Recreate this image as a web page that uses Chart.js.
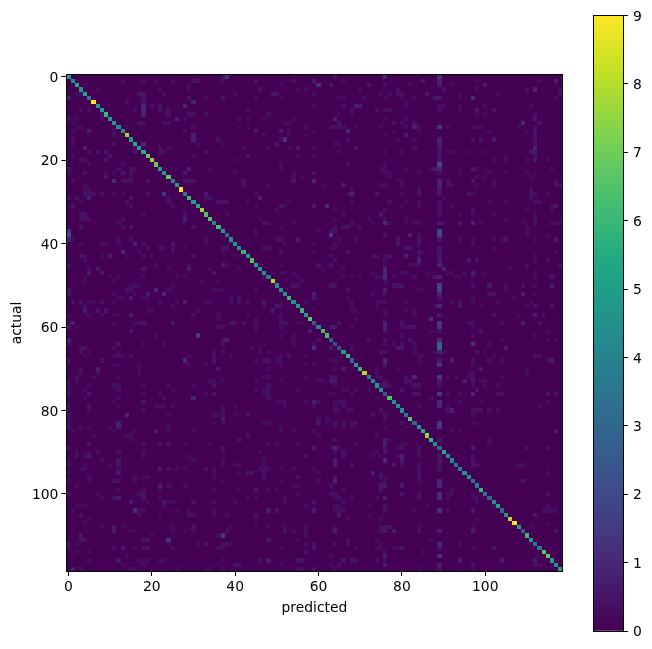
<!DOCTYPE html>
<html>
<head>
<meta charset="utf-8">
<title>Confusion matrix</title>
<script src="https://cdn.jsdelivr.net/npm/chart.js@4"></script>
<style>
  html, body { margin: 0; background: #fff; }
  canvas { position: absolute; top: 0; }
  #matrix { left: 0; }
  #colorbar { left: 580px; }
</style>
</head>
<body>
<canvas id="matrix" width="580" height="649"></canvas>
<canvas id="colorbar" width="72" height="649"></canvas>
<script>
// values, colour scale runs 0..9
const classCount = 119;
const xTickValues = [0, 20, 40, 60, 80, 100];
const yTickValues = [0, 20, 40, 60, 80, 100];
const barTickValues = [0, 1, 2, 3, 4, 5, 6, 7, 8, 9];
const xTitle = "predicted";
const yTitle = "actual";

// cell [i][i] for i = 0..118
const diagonal = [
  4.5,4.5,5.5,5,5.5,3.5,9,5,5,6,5,5,4.5,4.5,7.8,5,5.5,5,5.5,6.8,
  7.5,6.8,5,5,6.8,4,5,9,3.5,6,5,5.5,7.6,6.5,6.5,4,6.3,5,3,4.5,
  4.7,4.5,6,5,6.5,5,5,4.5,4,8,4.5,4.5,4.5,6,4.5,5,6,4.8,6.8,2.5,
  4,6.3,6.3,2.5,2,2.2,5,6,3,5,6,8,4,4.5,5,4.5,2.5,6.5,4.5,4.5,
  4.5,3.5,6.7,3,4.5,5.5,7.5,6,4.5,3,5.5,4.5,4.2,3.5,4,4.7,4.6,3.5,3.8,6,
  3.5,3,4.5,5.3,3,4.8,8,9,5,2.5,6.2,4.8,3.5,3.8,6.7,6.7,5,4.5,5
];

// the bright vertical stripe at predicted = 89
const stripeColumn = 89;
const stripeRows = [0,1,2,5,7,8,12,15,16,17,18,19,20,21,22,23,25,26,27,28,30,31,32,33,35,37,38,39,41,42,43,44,45,48,50,51,52,53,55,57,59,60,61,63,64,65,66,68,69,72,73,74,76,78,79,83,84,87,91,92,93,94,97,98,100,101,104,109,112,113,115,117,118];
const stripeValues = [1.3,.8,.7,.6,.4,.4,1.5,.8,.8,.5,.5,.5,.5,2,.8,.3,.8,.8,.6,.6,.4,.4,.4,.4,.5,2,2,.5,.5,.5,.5,.5,1,.8,1.8,1.8,.8,.5,1,.6,1.5,1.5,.4,1,3,3,.8,.6,1.3,1.5,.5,.4,1.5,1,.9,1.4,1.4,.5,.5,.5,.5,.5,1,1,1.2,1.2,1.3,.8,1,.6,1.3,.8,.5];

// off-diagonal cells, [row, [col, value, col, value, ...]]
const cellsLeft = [
  [0,[37,.5,38,1.2]],[1,[13,.4,18,.4,21,.3,25,.4,30,.4,31,.4,37,.4]],[2,[4,.3,29,.3]],[3,[7,.3,22,.4,29,.3]],
  [4,[2,.3,3,.3,17,.6,18,.6,23,.4]],[5,[0,.8,18,.5,29,.4,33,.3,37,.5]],[6,[14,.4,18,.4,30,.9]],[7,[18,1,20,.4,22,.5,28,.9]],
  [8,[3,.4,5,.4,16,.4,18,1,22,.5,24,.4]],[9,[8,.4,18,.8,24,.4,29,.4,30,.4,33,.4]],[10,[0,.4,2,.3,8,.3,26,.8,28,.3]],[11,[1,.3,17,.4,18,.4,23,.4,24,.4]],
  [12,[2,.3,3,.3,14,.3,30,.4]],[13,[1,.3,5,.8,11,.4,28,.4]],[14,[11,.3,30,.8]],[15,[1,.4,30,.8,36,.4]],
  [16,[1,.3,11,.4,18,1,31,.3,37,.3]],[17,[4,.8,16,.3,22,.4,24,.3]],[18,[5,.4,7,.4,9,.6,16,.5,22,.4,23,.4,33,.4]],[19,[1,.3,10,.4,30,.3]],
  [20,[3,.4,4,.4,9,.5]],[21,[5,.3,13,.3]],[22,[0,.4,12,.4,15,.4,16,.4,29,.8,34,.3]],[23,[0,.3,4,.5,9,.3,11,.3,13,.6,15,.3,28,.7]],
  [24,[9,.7,15,.3]],[25,[1,.4,11,1.2,13,.4,14,.4,15,.4,19,.5,28,.5,29,.5,30,.5]],[26,[4,.3]],[27,[4,.3,5,.3]],
  [28,[4,.4,5,.4,6,.4,8,.4,11,.3,13,.3,19,.4,23,1.5,33,.6]],[29,[0,.4,2,.4,5,.8,15,.6,24,.4,33,.4,34,.4]],[30,[3,.3,14,.4,24,.4,36,.5,37,.5,38,.5]],[31,[1,.6,15,.4,25,.4]],
  [33,[3,.5,4,.5,18,.3,28,.4,38,.3]],[34,[3,.4,4,.4,5,.4,13,.4,28,.8]],[35,[12,.4,28,.3]],[36,[3,.5,13,.4,15,.6,30,.5]],
  [37,[0,1.2]],[38,[0,2]],[39,[0,.8,1,.3,12,.3,15,.4,33,.3]],[40,[3,.3,8,.4,9,.4,12,.3,16,.8,18,.3,25,.6,33,.3]],
  [41,[19,.5,22,.4,23,.3,25,.4,28,.3,37,.5,38,.5]],[42,[13,1,17,.3,25,.3,37,.3]],[43,[3,.6,4,.4,8,.3,10,.8,14,.3,18,.3,20,.3,30,.4]],[44,[4,.3]],
  [45,[0,.4,21,.3,29,.3,37,.7,38,.3]],[46,[5,.3,7,.7,18,.6,24,.3,29,.7,34,.3]],[47,[5,.7,8,.6,35,.6]],[48,[4,.3,10,.3,12,.3,18,.3,26,.3,28,.3]],
  [49,[4,.3,11,.3,32,.3,36,.3]],[50,[15,.3,16,.3,17,.3,25,.3]],[51,[0,.5,14,.4,15,.4,21,1,24,.3,35,.3,36,.3,37,.3]],[52,[0,.5,11,.3,16,.3,19,.7,23,1]],
  [53,[12,.3,13,.3,15,.7,18,.3,19,.3,39,.3]],[54,[1,.5,3,.5,5,.3,6,.3,8,.4,11,.3,22,.3,26,.3,28,.8,33,.3,34,.3,39,.3]],[55,[4,.3,25,.3]],[56,[4,.7,7,.5,9,.6,19,.3,20,.3,31,.3]],
  [57,[0,.3,5,.3,8,.3,11,.3,12,.3,15,.7,30,.4,36,.3]],[58,[36,.3]],[59,[0,.3,1,.8,11,.3,16,.3,17,.3,18,.6,25,.6,39,.6]],[60,[0,.6,2,.3,36,.4,37,.4]],
  [61,[15,.6]],[62,[21,.3,31,1.5]],[63,[0,.7,37,.5,38,.8]],[64,[0,.4,12,.6,18,.3,23,.3,37,.5]],
  [65,[3,.4,4,.4,11,.3]],[66,[3,.5,5,.3,12,.3,35,.3,37,.3]],[67,[4,.3,11,.3,12,.3,13,.3,15,.4,29,.3,35,.3,39,.3]],[68,[0,.5,8,.5,28,1,35,.5]],
  [69,[11,.3,12,.3,17,.3,29,.4,33,.3]],[70,[3,.5,7,.8,17,.3,36,.6]],[71,[3,.4,7,.3,17,.3]],[72,[2,.5,6,.3,12,.3]],
  [73,[0,.3,2,.3,34,.3,35,.3,37,.3]],[74,[0,.3,5,.3,11,.3,12,.3,18,.3,24,.3,30,.3,35,.5]],[75,[0,.3,4,.3,12,.3,25,.3]],[76,[0,.5,5,.6,18,.3,22,.3,33,.3,35,.6]],
  [77,[4,.3,12,.3,23,.4,30,.9]],[78,[11,.3,18,.5]],[79,[0,.3,5,.5,12,.3,21,.3,22,.3,23,.3,25,.3,37,.3]],[80,[5,.3,18,.3,37,.4]],
  [81,[0,.4,14,1,24,.3,35,.3,36,.3,37,.3]],[82,[0,.3,37,.7]],[83,[0,.3,12,.8,35,.3,37,.3]],[84,[0,.5,3,.3,5,.3,10,.3,12,.8,24,.3]],
  [85,[1,.3,11,.3,16,.3,21,.7,24,.3,30,.3]],[86,[6,.3,14,.3,15,.3]],[87,[15,.3]],[88,[5,.5,18,.4,22,.5,24,.5,28,.3,34,.3]],
  [89,[0,.5,37,.6]],[90,[2,.3,5,.3,7,.4,12,.4,18,.3,37,.3]],[91,[2,.4,4,.3,5,.7,18,.3,29,.3]],[92,[0,.3,8,.3,12,.6,30,.3,37,.3]],
  [93,[0,.4,4,.3,10,.3,12,.6,37,.3]],[94,[3,.3,4,.3,12,.3,22,.7,24,.5,26,.3,28,.3,33,.5,35,.3]],[95,[0,.3,12,.6,35,.3]],[96,[5,.3,16,.3,18,.3,19,.3,35,.3]],
  [97,[0,.3,5,.3,11,.4,12,.4,16,.3,37,.4]],[98,[2,.3,22,.7,24,.3,28,.3]],[99,[12,.3,18,.3,22,.3,35,.3]],[100,[0,.3,7,.3,17,.3,18,.5]],
  [101,[8,.3,11,.5,12,.8,18,.5,22,.3]],[102,[15,.7,19,.3,23,.6,24,.3,25,.3,30,.5,35,.4]],[103,[2,.3,3,.3,4,.3,23,.3]],[104,[1,.3,16,1.1,17,.3,18,.3,26,.3,29,.3,35,.3]],
  [105,[3,.5,17,.3,22,.3,29,.4,30,.4,35,.4,38,.4]],[106,[5,.3]],[107,[4,.3]],[108,[8,.3,11,.6,13,.3,25,.3,30,.5,39,.3]],
  [109,[11,.6,15,.3,16,.3,25,.3,28,.3,30,.3,38,.4]],[110,[3,.6,20,.3,36,.3,37,1.5]],[111,[3,.4,4,.4,18,.5,19,.5,24,1.4]],[112,[0,.5,2,.3,24,.3,31,.3,33,.5,37,.4,38,.4,39,.3]],
  [113,[0,.3,11,.4,13,.7,16,.3,18,.4,19,.5,25,.5,36,.3,37,.3]],[114,[2,.3,5,.3]],[115,[14,.3]],[116,[5,.3,12,.6,17,.3,18,.3,19,.3,22,.3,23,.3,37,.3]],
  [117,[13,.3,18,.3]],[118,[1,.7,3,.4,15,.3,16,.3,26,.3,33,.3,34,.3,37,.3,39,.3]]
];

const cellsMiddle = [
  [0,[64,.4,76,1]],[1,[45,.6,54,.5,59,.7,66,.3]],[2,[51,.3,60,1.2,63,.6,72,.6,76,.4]],[3,[46,.4,55,.3,57,.3,70,.3,79,.4]],
  [4,[40,.3,49,.6,50,.6,59,.3,75,.3,77,.3,79,.3]],[5,[45,.3,51,.3,65,.3,66,.3,71,.3,76,.3]],[7,[59,.3,66,.4,69,.7,70,.7]],[8,[43,.4,68,.4,74,.4,76,.4,77,.4]],
  [9,[48,.4,65,.3,68,.3]],[10,[41,.3,43,.3,47,.3,54,.3,64,.9,76,.3]],[11,[52,.3,53,.3,65,.6,78,.5]],[12,[41,.3,43,.3,57,.3,63,.4,64,.4,65,.4,66,.4,69,.3,75,.3]],
  [13,[45,.7,51,.7,53,.3,59,.3,67,1,78,.3]],[14,[47,.3,53,.3,57,.3,76,.3]],[15,[51,.3,52,1.2,67,.3,79,.3]],[16,[50,.6,64,.3,65,.3]],
  [17,[42,.3,48,.3,53,.3,55,.7,59,.3,69,.6]],[18,[65,.3,76,.3]],[19,[43,.6,55,.3,59,.4]],[20,[40,.3]],
  [21,[51,.3,67,.3,76,.3]],[22,[51,.3,75,.3,76,.3]],[23,[40,.3,54,.3,59,.6,76,.3,77,.3]],[24,[54,.3,56,.3,77,.3]],
  [25,[42,.6,54,.6,59,1,79,.3]],[26,[42,.4,48,.3,61,.3,66,.7,75,.4,76,.4]],[27,[68,.3]],[28,[45,.3,67,.3,68,.9,74,.6]],
  [29,[46,.8]],[30,[43,.3,53,.3,68,.3,77,.4]],[31,[45,.3,51,.6,52,.3,59,.7,62,1.1]],[32,[50,.3,64,.3,76,.3]],
  [33,[66,.3,75,.6]],[34,[46,.3,64,.3,72,.3,76,.3]],[35,[47,.5,48,.3,54,.3,68,.4,73,.3,76,1.2,77,.3]],[36,[51,.3,64,.4,66,.4,67,.4,70,.4]],
  [37,[45,.4,60,.3,63,.4,64,.4]],[38,[45,.3,63,1.6,76,.5]],[39,[50,.4,51,.4,55,.7,65,.3,69,.3,79,.5]],[40,[52,.3,59,.3,64,.3,79,.5]],
  [41,[47,.4,48,.4,63,.3,64,.3]],[42,[51,.4,59,.3,67,.5]],[43,[40,.3,63,.4,73,.4,74,.4,76,.3,77,.5]],[44,[64,.3,76,.3]],
  [45,[51,.3,60,.5,63,.5,76,.3]],[46,[41,.3,61,.3,66,.3,76,.9]],[47,[49,.3,51,.3,52,.3,54,.3,73,.3,76,.9]],[48,[47,.3,55,.3,66,.3,68,.3,70,.3,74,.3,75,.3,76,1.1,78,.3]],
  [49,[56,.3,76,.5]],[50,[54,.4,55,.4,63,.5,64,.5,78,.5,79,.5]],[51,[45,.3,67,.4,76,.8]],[52,[59,.8,73,.3,76,.3]],
  [53,[41,.4,59,.6,67,.3]],[54,[41,.5,43,.3,47,.6,51,.3,57,.3,68,.3,74,.3,75,.3,76,.4]],[55,[47,.3,50,.6,51,.3,68,.3,74,.3]],[56,[49,.6,68,.3,69,.3,76,.3]],
  [57,[43,.3,51,.3,76,.3]],[58,[45,.3,51,.3,69,.3]],[59,[40,.5,42,.4,45,.3,51,.3,52,.5,55,.3,56,.3,65,.5,76,.8]],[60,[45,.3,51,.3,63,.6,64,.6,68,.3,76,.8]],
  [61,[45,.3,58,.7,76,.6]],[62,[51,.3,54,.3]],[63,[54,.3,60,.4,72,.4,76,.5]],[64,[47,.3,54,.3,59,.3,68,.3,76,.3,78,.3]],
  [65,[44,.3,46,.3,59,1.3,63,.6,68,.3,79,.7]],[66,[46,.3,48,.3,75,.4,76,.3]],[67,[51,.3,53,.5,57,.3]],[68,[45,.3,47,.5,48,.5,50,.3,51,.3,63,.3,64,.3,76,1]],
  [69,[51,.3,57,.3,59,.3,76,.6]],[70,[48,.3,64,.3,66,.6,74,.3,79,.3]],[71,[74,.3]],[72,[47,.3,48,.3,57,.3,63,.5,64,.5,74,.3,75,.3]],
  [73,[45,.3,51,.3,60,.3,61,.3,63,.7,64,.6,76,.3]],[74,[48,.3,64,.3,75,.5,76,.6,77,.3]],[75,[45,.3,47,.3,48,.3,55,.3,66,.3,67,.3,69,.3,72,.3]],[76,[47,.3,48,.3,63,.3,64,.3,68,.3]],
  [77,[48,.3,74,.3]],[78,[50,.3,51,.3,52,.3,57,.3,59,.8,60,.3,64,.3,65,.3,66,.3]],[79,[40,.3,52,.3,59,.3,64,.3,66,.3]],[80,[64,.5,65,.3,67,.3,68,.3,75,.5]],
  [81,[40,.3,43,.6,73,.5,76,.5]],[82,[60,.4,62,.3,76,.3]],[83,[47,.3,48,.3,60,.6,62,.3,64,.5,66,.3,68,.3,69,.5]],[84,[51,.3,64,.3,66,.3,68,.3,76,.3]],
  [85,[51,.4,54,.3,59,.3]],[86,[43,.4,60,.3,74,.3]],[87,[41,.5,64,.4,68,.3,76,.7,77,.3]],[88,[48,.3,50,.3,55,.3,69,.3,76,.7]],
  [89,[59,.8,63,.3,64,.9,65,.4,76,.6,79,.3]],[90,[46,.3,64,.3,66,.4,74,.3,76,.6]],[91,[57,.4,66,.4,73,.3,75,.3,79,.3]],[92,[47,.4,64,.7,76,1]],
  [93,[40,.3,41,.3,47,.3,64,.7,68,.5,78,.7]],[94,[46,.3,47,.3,48,.3,51,.3,54,.3,59,.3]],[95,[41,.3,43,.5,44,.5,47,.5,60,.3,73,.8,75,.4]],[96,[47,.5,55,.5,64,.5,75,.5,76,.3]],
  [97,[51,.3,60,.3,64,1,76,.3]],[98,[54,.3,55,.3,63,.4,75,.6,76,.6]],[99,[41,.3,45,.5,48,.3,50,.3,66,.3,75,.5]],[100,[55,.3,63,.4,64,.4]],
  [101,[43,.3,45,.3,52,.3,64,.3,65,.5,68,.3,74,.3,76,.8]],[102,[40,.3,52,.3,59,.5,66,.3]],[103,[57,.3,64,.3,65,.3,72,.3,76,.5]],[104,[48,.7,50,.6,59,.7,64,.3,65,.3,66,.3,76,.4]],
  [105,[45,.5,65,.7,72,.3]],[106,[67,.3,75,.3]],[107,[45,.3]],[108,[48,.3,52,.3,57,.3,64,.3,75,.4,76,.4,77,.6]],
  [109,[52,.5,54,.3,57,.3,64,.8,75,.4,76,.6,78,.7]],[110,[57,.3]],[111,[48,.6,55,.3,67,.4,74,.3]],[112,[57,.3,59,.4,64,.4,67,.4,75,.3]],
  [113,[51,.3,59,.5,69,.3,74,.3,75,.3,78,.3,79,.3]],[114,[43,.3,57,.5,76,.3]],[115,[63,.3,76,.8]],[116,[46,.4,48,.7,55,.5,56,.5,66,.6,68,.4,69,.4,74,.4,76,.3]],
  [117,[40,.5,41,.5,51,.3,63,.3,65,.5,76,.7]],[118,[55,.3,56,.3,59,.5,64,.3]]
];

const cellsRight = [
  [1,[85,.6,98,.3,113,.3,117,.8]],[2,[82,.3,92,.3,100,.7]],[3,[90,.4,98,.3,110,.4,112,1,118,.5]],[4,[80,.4,86,.6,94,.3,103,.3,118,.3]],
  [5,[80,.3,83,.3,88,.6,94,.3,97,1.1,117,.3]],[6,[81,.3]],[7,[81,.3,90,.3,94,.3,100,.3,111,.3]],[8,[94,.3,98,.6,102,.6]],
  [9,[98,.3,100,.3,112,.3]],[10,[81,.3,112,.7]],[11,[80,.3,83,.4,109,1.1,113,.5]],[12,[81,.4,83,.8,84,.3,91,.3,97,.3,98,.3,99,.3,108,.3,112,.3]],
  [13,[84,.3,101,.3,110,.3,112,.4]],[14,[81,.7,112,.4]],[15,[83,.3,97,.4,99,.4,102,.7,112,.5]],[16,[112,.3]],
  [17,[83,.4,112,.8]],[18,[80,.3,91,.3,92,.3,96,.3,100,.3,111,.6,112,.6]],[19,[105,.3,112,.4]],[20,[102,.3,105,.3,110,.3,112,.6,115,.3]],
  [22,[81,.3,87,.4,88,.6,94,.3,97,.7,98,.3,100,.3,116,.3]],[23,[84,.3,94,.3,101,.3,105,.3,110,.3,112,.3]],[24,[98,.3,100,.3,111,.3]],[25,[80,.4,91,.4,97,.6,102,.4,117,.4]],
  [26,[80,.3,91,.4,92,.4,98,.3,102,.3,117,.5,118,.5]],[27,[84,.4,111,.4]],[28,[80,.3,84,.5,96,.5,97,.3,111,.4,112,.4,115,.3]],[29,[90,.3,111,.4]],
  [30,[81,.3,84,.3,101,.3,105,.3,112,.4,113,.4]],[31,[80,.3,84,.3,92,.3,116,.3,117,.6]],[32,[97,.5,110,.3,116,.3]],[33,[94,.3,97,.3,102,.3,112,.3]],
  [34,[81,.3,105,.3,112,.3]],[35,[81,.3,83,.4,84,.4,90,.3,94,.6,97,.9,99,.3,109,.3,112,.5,116,.3,117,.3,118,.3]],[36,[110,.3]],[37,[110,.3]],
  [38,[82,.8,84,.3,110,.3,115,.3]],[39,[84,.5,94,.3,97,.3,102,.3,104,.3,105,.5,112,.3,117,.6]],[40,[84,.4,97,.4]],[41,[81,.5,82,.5,102,.3]],
  [42,[84,.5,85,.3,117,.3]],[43,[81,.8,84,.3,112,.3]],[44,[84,.8,96,.6,98,.4,112,.3,115,.4]],[45,[82,.3,83,.3,84,.3,110,.5,118,.4]],
  [46,[90,.8,106,.3]],[47,[80,.3,81,.3,86,.3,91,.3,92,.3,95,.3,97,.8,100,.3,112,.3]],[48,[83,.4,88,.6,93,.3,94,.3,97,.3,112,.3,116,.6]],[50,[80,.5,97,.5,101,.6,105,.3,109,.4,112,.3,116,.7]],
  [51,[84,.3,85,.3,105,.3]],[52,[101,.5,102,.5,109,.8,112,.3]],[53,[97,.3,107,.3]],[54,[81,.3,92,.3,94,.4,97,.3,103,.3,111,.3]],
  [55,[88,.3,94,.6,99,.3,110,.3,112,.6,116,.6]],[56,[81,.3,83,.3]],[57,[83,.3,102,.5,108,.3,112,.8,114,.3]],[58,[87,1.2]],
  [59,[80,.5,96,.4,97,.4,104,.4,109,.7,113,.4]],[60,[80,.3,81,.3,82,.5,83,.5,97,.3]],[61,[87,.3,99,.4,115,.3]],[62,[80,.3,97,.3,112,.3]],
  [63,[82,.5,104,.3,115,.3,117,.3]],[64,[80,.5,83,.3,91,.3,97,1.2,101,.3]],[65,[80,.6,83,.3,105,.8]],[66,[83,.3,88,.3,90,.3,98,.4,100,.3]],
  [67,[84,.3,85,.3,102,.3,112,.4,113,.4]],[68,[84,.3,92,.8,97,.5,101,.3,104,.3,115,.3,116,.7]],[69,[97,.3]],[70,[99,.7,110,.3]],
  [71,[96,.3,97,.3,110,.3]],[72,[81,.3,83,1,91,.3,93,.3,96,.3,97,.3,104,.3]],[73,[81,.4,82,.4,95,.7,97,.6,99,.4,100,.4]],[74,[83,.4,84,.4,97,.3,100,.3,103,.3]],
  [75,[80,.5,98,.6]],[76,[83,.5,84,.5,91,.3,94,.3,97,1,103,.4,104,.4,115,.6,117,.4]],[77,[87,.3]],[78,[94,.3,99,.3,115,.3]],
  [79,[84,.3,91,.3,113,.3]],[80,[91,.4,92,.8,97,.4,98,.4,99,.4,101,.4,103,.3]],[81,[97,.4]],[83,[80,.4,97,.3,98,.3]],
  [85,[92,.3,94,.3,117,.7]],[87,[101,.3]],[88,[80,.3,81,.3,101,.3]],[89,[80,.5,84,.4,97,.8,110,.4,115,.4]],
  [90,[84,.4]],[91,[80,.8,84,.3,97,.4]],[92,[80,.7,97,.5]],[93,[80,.3,84,.3,97,.5,98,.5,108,.4,109,.4]],
  [94,[84,.5]],[95,[84,.5,115,.4]],[96,[84,.4]],[97,[84,.3,109,.6]],
  [98,[80,.7]],[99,[92,.3]],[100,[80,.6,84,.5,91,.3,92,.3,97,.3,115,.5]],[101,[84,.4,91,.3,97,.3,98,.3]],
  [102,[98,.3]],[103,[86,.3,102,.3,115,.3]],[104,[83,.3,91,.3,97,.6,114,.3,115,.3,116,.3,117,.3]],[105,[112,.7]],
  [106,[98,.3]],[107,[115,.3]],[108,[84,.3,97,.3,111,.3]],[109,[84,.5,97,.8,117,.5]],
  [110,[110,.3]],[111,[87,.3]],[112,[94,.3]],[113,[80,.5,97,.3,102,.5]],
  [114,[85,.3]],[116,[94,.7,104,.7,112,.6]],[117,[97,.5,112,.4,113,.3]],[118,[84,.3,97,.3]]
];

// viridis, sampled every 10%
const viridis = ["#440154","#482475","#414487","#355f8d","#2a788e","#21918c","#22a884","#44bf70","#7ad151","#bddf26","#fde725"];
const colorMax = 9;
const fontFamily = "'DejaVu Sans', sans-serif";
const fontSize = 13.9;

function hexToRgb(hex) {
    return [1, 3, 5].map(i => parseInt(hex.slice(i, i + 2), 16));
}

function colorFor(value) {
    const t = Math.min(value / colorMax, 1) * (viridis.length - 1);
    const i = Math.min(Math.floor(t), viridis.length - 2);
    const a = hexToRgb(viridis[i]);
    const b = hexToRgb(viridis[i + 1]);
    const mix = a.map((c, k) => Math.round(c + (b[k] - c) * (t - i)));
    return `rgb(${mix[0]},${mix[1]},${mix[2]})`;
}

// Alle Zellen als Punkte fuer den Scatter-Datensatz
function buildCells() {
    const cells = [];
    [cellsLeft, cellsMiddle, cellsRight].forEach(band => {
        band.forEach(([row, pairs]) => {
            for (let i = 0; i < pairs.length; i += 2) {
                cells.push({ x: pairs[i], y: row, v: pairs[i + 1] });
            }
        });
    });
    stripeRows.forEach((row, i) => {
        if (row !== stripeColumn) cells.push({ x: stripeColumn, y: row, v: stripeValues[i] });
    });
    diagonal.forEach((v, i) => cells.push({ x: i, y: i, v: v }));
    return cells;
}

function strokeFrame(chart) {
    const { ctx, chartArea: a } = chart;
    const l = Math.floor(a.left), t = Math.floor(a.top);
    const r = Math.round(a.right), b = Math.round(a.bottom);
    ctx.save();
    ctx.strokeStyle = "#000";
    ctx.lineWidth = 1;
    ctx.strokeRect(l + 0.5, t + 0.5, r - l, b - t);
    ctx.restore();
}

// imshow-artige Zellen, Kanten kommen aus den Skalen und werden auf Pixel gerundet
const cellPainter = {
    id: "cellPainter",
    afterDatasetsDraw(chart) {
        const { ctx, chartArea: a, scales } = chart;
        ctx.save();
        ctx.fillStyle = colorFor(0);
        ctx.fillRect(a.left, a.top, a.right - a.left, a.bottom - a.top);
        chart.data.datasets[0].data.forEach(cell => {
            const x0 = Math.round(scales.x.getPixelForValue(cell.x - 0.5));
            const x1 = Math.round(scales.x.getPixelForValue(cell.x + 0.5));
            const y0 = Math.round(scales.y.getPixelForValue(cell.y - 0.5));
            const y1 = Math.round(scales.y.getPixelForValue(cell.y + 0.5));
            ctx.fillStyle = colorFor(cell.v);
            ctx.fillRect(x0, y0, x1 - x0, y1 - y0);
        });
        ctx.restore();
        strokeFrame(chart);
    }
};

const frameOnly = { id: "frameOnly", afterDatasetsDraw: strokeFrame };

function tickStyle() {
    return { color: "#000", font: { family: fontFamily, size: fontSize } };
}

new Chart(document.getElementById("matrix"), {
    type: "scatter",
    data: { datasets: [{ data: buildCells(), pointRadius: 0, pointHoverRadius: 0 }] },
    options: {
        responsive: false,
        animation: false,
        events: [],
        layout: { padding: { left: 0, top: 74.9, right: 17.6, bottom: 32 } },
        plugins: { legend: { display: false }, tooltip: { enabled: false } },
        scales: {
            x: {
                type: "linear",
                min: -0.5,
                max: classCount - 0.5,
                afterBuildTicks: axis => { axis.ticks = xTickValues.map(v => ({ value: v })); },
                afterFit: axis => { axis.height = 46; },
                ticks: { ...tickStyle(), maxRotation: 0, padding: 3 },
                grid: { drawOnChartArea: false, color: "#000", tickLength: 5 },
                border: { display: false },
                title: { display: true, text: xTitle, color: "#000", font: { family: fontFamily, size: fontSize }, padding: { top: 4, bottom: 0 } }
            },
            y: {
                type: "linear",
                reverse: true,
                min: -0.5,
                max: classCount - 0.5,
                afterBuildTicks: axis => { axis.ticks = yTickValues.map(v => ({ value: v })); },
                afterFit: axis => { axis.width = 66.4; },
                ticks: { ...tickStyle(), padding: 3, labelOffset: 1.5 },
                grid: { drawOnChartArea: false, color: "#000", tickLength: 5 },
                border: { display: false },
                title: { display: true, text: yTitle, color: "#000", font: { family: fontFamily, size: fontSize }, padding: { top: 9, bottom: 0 } }
            }
        }
    },
    plugins: [cellPainter]
});

new Chart(document.getElementById("colorbar"), {
    type: "bar",
    data: {
        labels: [""],
        datasets: [{
            data: [colorMax],
            barPercentage: 1,
            categoryPercentage: 1,
            backgroundColor: context => {
                const area = context.chart.chartArea;
                if (!area) return viridis[0];
                const gradient = context.chart.ctx.createLinearGradient(0, area.bottom, 0, area.top);
                viridis.forEach((c, i) => gradient.addColorStop(i / (viridis.length - 1), c));
                return gradient;
            }
        }]
    },
    options: {
        responsive: false,
        animation: false,
        events: [],
        layout: { padding: { left: 13.5, top: 15.5, right: 0, bottom: 18 } },
        plugins: { legend: { display: false }, tooltip: { enabled: false } },
        scales: {
            x: { display: false },
            y: {
                position: "right",
                min: 0,
                max: colorMax,
                afterBuildTicks: axis => { axis.ticks = barTickValues.map(v => ({ value: v })); },
                afterFit: axis => { axis.width = 29; },
                ticks: { ...tickStyle(), padding: 5, labelOffset: 1.5 },
                grid: { drawOnChartArea: false, color: "#000", tickLength: 5 },
                border: { display: false }
            }
        }
    },
    plugins: [frameOnly]
});
</script>
</body>
</html>
